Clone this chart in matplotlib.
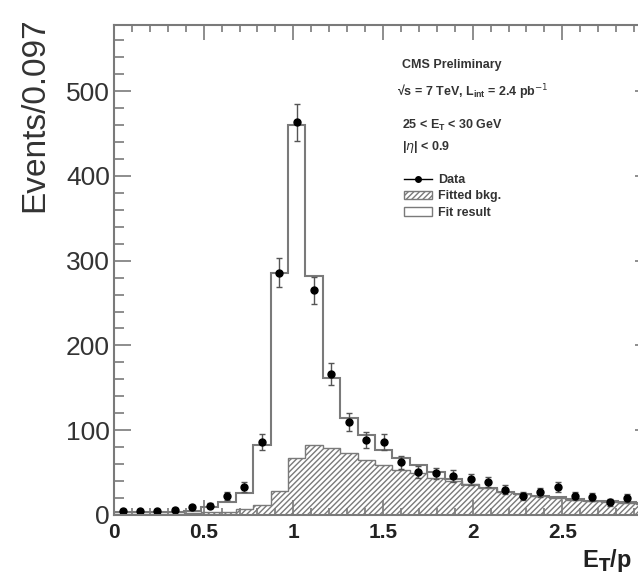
import numpy as np
import matplotlib
matplotlib.use("Agg")
import matplotlib.pyplot as plt
from matplotlib.lines import Line2D
from matplotlib.patches import Patch

plt.rcParams['font.family'] = ['Liberation Sans', 'DejaVu Sans']

bin_width = 0.097
n_bins = 31
# events per bin
data_counts = [5, 5, 5, 6, 9, 11, 22, 33, 86, 286, 463, 265, 166, 110, 89, 86,
               62, 51, 49, 46, 42, 39, 30, 22, 27, 33, 22, 21, 15, 20, 18]
fit_result = [3, 3, 3, 3, 5, 9, 15, 26, 82, 286, 460, 282, 162, 114, 94, 77,
              67, 59, 51, 42, 35, 32, 27, 25, 22, 21, 19, 17, 16, 15, 14]
fitted_bkg = [1, 1, 1, 1, 2, 3, 4, 7, 12, 28, 67, 82, 79, 73, 65, 59,
              53, 49, 44, 40, 36, 32, 27, 25, 22, 20, 18, 16, 15, 14, 13]
xtick_vals = [0, 0.5, 1, 1.5, 2, 2.5]
xtick_labels = ["0", "0.5", "1", "1.5", "2", "2.5"]

edges = np.arange(n_bins + 1) * bin_width
centers = 0.5 * (edges[:-1] + edges[1:])
data_counts = np.array(data_counts)

W, H = 638, 579
fig = plt.figure(figsize=(W / 100, H / 100), dpi=100)
ax = fig.add_axes([114 / W, 64 / H, 538 / W, 490 / H])

gray = "#7a7a7a"
ax.stairs(fitted_bkg, edges, fill=True, facecolor="white", edgecolor=gray,
          hatch="//////", lw=1.0)
ax.stairs(fit_result, edges, color=gray, lw=1.5)
ax.errorbar(centers, data_counts, yerr=np.sqrt(data_counts), fmt="o",
            color="black", ms=5, ecolor="#555555", elinewidth=1, capsize=2)

ax.set_xlim(0, 3)
ax.set_ylim(0, 578)
ax.set_xticks(xtick_vals)
ax.set_xticks(np.arange(0, 3.01, 0.1), minor=True)
ax.set_xticklabels(xtick_labels)
ax.set_yticks(np.arange(0, 501, 100))
ax.set_yticks(np.arange(0, 578, 20), minor=True)

for s in ax.spines.values():
    s.set_color(gray)
    s.set_linewidth(1.5)
ax.tick_params(axis="both", which="both", direction="in", top=True, right=True,
               color=gray, width=1.2)
ax.tick_params(axis="y", which="major", length=12, labelsize=19, pad=3,
               labelcolor="#333333")
ax.tick_params(axis="y", which="minor", length=7)
ax.tick_params(axis="x", which="major", length=11, labelsize=15, pad=6,
               labelcolor="#222222")
ax.tick_params(axis="x", which="minor", length=5)
for lab in ax.get_xticklabels():
    lab.set_fontweight("bold")

fig.text(19 / W, 1 - 115 / H, "Events/0.097", rotation=90, fontsize=24,
         va="center", ha="left", color="#333333")
fig.text(582 / W, 1 - 560 / H, r"E$_\mathbf{T}$/p", fontsize=17,
         fontweight="bold", va="center", ha="left", color="#222222")

txt = dict(fontsize=9, fontweight="bold", color="#333333", va="center", ha="left")
fig.text(402 / W, 1 - 65 / H, "CMS Preliminary", **txt)
fig.text(397 / W, 1 - 92 / H,
         "\u221As = 7 TeV, L$_\\mathregular{int}$ = 2.4 pb$^{-1}$", **txt)
fig.text(402 / W, 1 - 125 / H, r"25 < E$_\mathregular{T}$ < 30 GeV", **txt)
fig.text(402 / W, 1 - 147 / H, r"|$\eta$| < 0.9", **txt)

handles = [
    Line2D([], [], color="black", marker="o", ms=4, lw=1),
    Patch(facecolor="white", edgecolor=gray, hatch="//////"),
    Patch(facecolor="white", edgecolor=gray),
]
leg = fig.legend(handles, ["Data", "Fitted bkg.", "Fit result"],
                 loc="upper left", bbox_to_anchor=(404 / W, 1 - 174 / H),
                 frameon=False, borderaxespad=0, borderpad=0,
                 handlelength=2.2, handletextpad=0.5, labelspacing=0.35,
                 prop={"size": 9, "weight": "bold"})
for t in leg.get_texts():
    t.set_color("#333333")

fig.savefig("out.png", dpi=100)
